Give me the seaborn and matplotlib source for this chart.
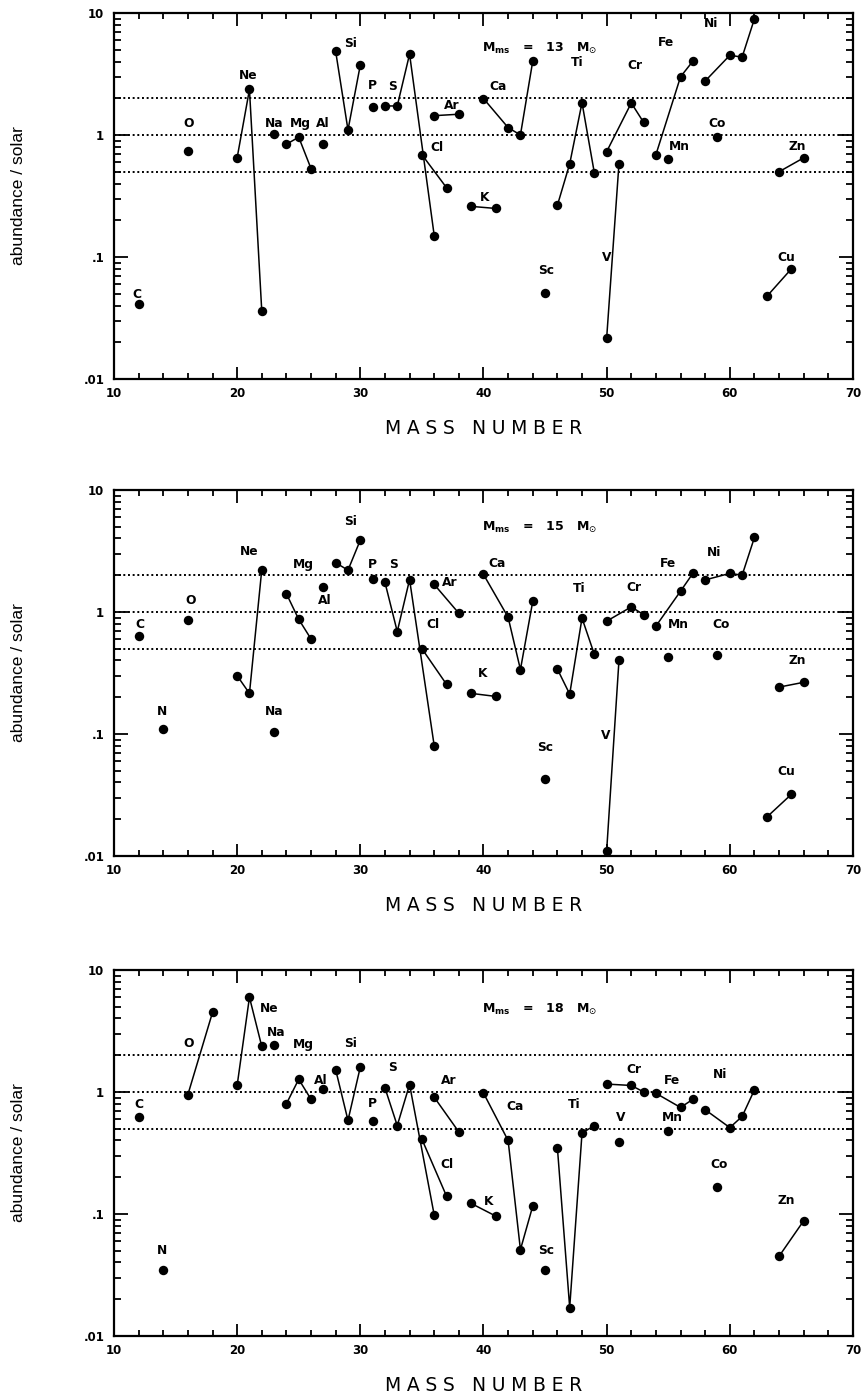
import matplotlib
matplotlib.use("Agg")
import matplotlib.pyplot as plt
import pandas as pd
import seaborn as sns
from matplotlib.ticker import FixedLocator, LogLocator, MultipleLocator, NullFormatter

# ---------------- 13 Msun ----------------
elem_13 = ["C", "O", "Ne", "Ne", "Ne", "Na", "Mg", "Mg", "Mg", "Al", "Si", "Si", "Si", "P",
           "S", "S", "S", "S", "Cl", "Cl", "Ar", "Ar", "K", "K", "Ca", "Ca", "Ca", "Ca", "Sc",
           "Ti", "Ti", "Ti", "Ti", "V", "V", "Cr", "Cr", "Cr", "Mn", "Fe", "Fe", "Fe", "Co",
           "Ni", "Ni", "Ni", "Ni", "Cu", "Cu", "Zn", "Zn"]
mass_13 = [12, 16, 20, 21, 22, 23, 24, 25, 26, 27, 28, 29, 30, 31,
           32, 33, 34, 36, 35, 37, 36, 38, 39, 41, 40, 42, 43, 44, 45,
           46, 47, 48, 49, 50, 51, 50, 52, 53, 55, 54, 56, 57, 59,
           58, 60, 61, 62, 63, 65, 64, 66]
abund_13 = [0.041, 0.74, 0.65, 2.36, 0.036, 1.02, 0.84, 0.96, 0.53, 0.84, 4.84, 1.10, 3.75, 1.70,
            1.73, 1.73, 4.6, 0.15, 0.69, 0.37, 1.44, 1.48, 0.26, 0.25, 1.99, 1.15, 1.0, 4.03, 0.051,
            0.265, 0.58, 1.84, 0.49, 0.0216, 0.58, 0.73, 1.83, 1.27, 0.64, 0.69, 3.0, 4.03, 0.97,
            2.77, 4.5, 4.35, 8.97, 0.0475, 0.08, 0.50, 0.65]
lab_13 = ["C", "O", "Ne", "Na", "Mg", "Al", "Si", "P", "S", "Cl", "Ar", "K", "Ca", "Sc",
          "Ti", "V", "Cr", "Mn", "Fe", "Co", "Ni", "Cu", "Zn"]
lab_13_x = [11.9, 16.05, 20.9, 23.0, 25.15, 26.95, 29.2, 31.0, 32.6, 36.2, 37.4, 40.1, 41.2, 45.1,
            47.6, 50.0, 52.3, 55.9, 54.8, 59.0, 58.5, 64.6, 65.5]
lab_13_y = [0.0497, 1.25, 3.08, 1.25, 1.25, 1.25, 5.64, 2.55, 2.52, 0.785, 1.74, 0.31, 2.48, 0.078,
            3.95, 0.099, 3.73, 0.8, 5.75, 1.25, 8.15, 0.099, 0.8]

# ---------------- 15 Msun ----------------
elem_15 = ["C", "N", "O", "Ne", "Ne", "Ne", "Na", "Mg", "Mg", "Mg", "Al", "Si", "Si", "Si", "P",
           "S", "S", "S", "S", "Cl", "Cl", "Ar", "Ar", "K", "K", "Ca", "Ca", "Ca", "Ca", "Sc",
           "Ti", "Ti", "Ti", "Ti", "V", "V", "Cr", "Cr", "Cr", "Mn", "Fe", "Fe", "Fe", "Co",
           "Ni", "Ni", "Ni", "Ni", "Cu", "Cu", "Zn", "Zn"]
mass_15 = [12, 14, 16, 20, 21, 22, 23, 24, 25, 26, 27, 28, 29, 30, 31,
           32, 33, 34, 36, 35, 37, 36, 38, 39, 41, 40, 42, 43, 44, 45,
           46, 47, 48, 49, 50, 51, 50, 52, 53, 55, 54, 56, 57, 59,
           58, 60, 61, 62, 63, 65, 64, 66]
abund_15 = [0.635, 0.11, 0.856, 0.30, 0.215, 2.22, 0.104, 1.41, 0.87, 0.60, 1.59, 2.53, 2.2, 3.88, 1.86,
            1.75, 0.69, 1.84, 0.080, 0.50, 0.255, 1.68, 0.975, 0.215, 0.203, 2.03, 0.905, 0.337, 1.22, 0.043,
            0.34, 0.212, 0.89, 0.45, 0.011, 0.40, 0.84, 1.10, 0.95, 0.43, 0.765, 1.48, 2.07, 0.44,
            1.83, 2.07, 2.0, 4.08, 0.0208, 0.032, 0.242, 0.265]
lab_15 = ["C", "N", "O", "Ne", "Na", "Mg", "Al", "Si", "P", "S", "Cl", "Ar", "K", "Ca", "Sc",
          "Ti", "V", "Cr", "Mn", "Fe", "Co", "Ni", "Cu", "Zn"]
lab_15_x = [12.1, 13.9, 16.2, 21.0, 23.0, 25.4, 27.1, 29.2, 31.0, 32.7, 35.9, 37.3, 39.9, 41.1, 45.0,
            47.8, 49.9, 52.2, 55.8, 55.0, 59.3, 58.7, 64.6, 65.5]
lab_15_y = [0.79, 0.153, 1.24, 3.1, 0.153, 2.44, 1.24, 5.47, 2.47, 2.47, 0.79, 1.73, 0.314, 2.48, 0.077,
            1.56, 0.097, 1.58, 0.79, 2.48, 0.79, 3.08, 0.049, 0.40]

# ---------------- 18 Msun ----------------
elem_18 = ["C", "N", "O", "O", "Ne", "Ne", "Ne", "Na", "Mg", "Mg", "Mg", "Al", "Si", "Si", "Si", "P",
           "S", "S", "S", "S", "Cl", "Cl", "Ar", "Ar", "K", "K", "Ca", "Ca", "Ca", "Ca", "Sc",
           "Ti", "Ti", "Ti", "Ti", "V", "Cr", "Cr", "Cr", "Mn", "Fe", "Fe", "Fe", "Co",
           "Ni", "Ni", "Ni", "Ni", "Zn", "Zn"]
mass_18 = [12, 14, 16, 18, 20, 21, 22, 23, 24, 25, 26, 27, 28, 29, 30, 31,
           32, 33, 34, 36, 35, 37, 36, 38, 39, 41, 40, 42, 43, 44, 45,
           46, 47, 48, 49, 51, 50, 52, 53, 55, 54, 56, 57, 59,
           58, 60, 61, 62, 64, 66]
abund_18 = [0.62, 0.035, 0.95, 4.48, 1.13, 5.97, 2.36, 2.43, 0.80, 1.27, 0.87, 1.06, 1.52, 0.585, 1.60, 0.574,
            1.08, 0.53, 1.15, 0.098, 0.41, 0.14, 0.905, 0.47, 0.122, 0.096, 0.98, 0.40, 0.051, 0.116, 0.035,
            0.35, 0.0171, 0.46, 0.53, 0.387, 1.16, 1.13, 1.0, 0.48, 0.975, 0.746, 0.87, 0.165,
            0.715, 0.51, 0.63, 1.04, 0.045, 0.088]
lab_18 = ["C", "N", "O", "Ne", "Na", "Mg", "Al", "Si", "P", "S", "Cl", "Ar", "K", "Ca", "Sc",
          "Ti", "V", "Cr", "Mn", "Fe", "Co", "Ni", "Zn"]
lab_18_x = [12.05, 13.9, 16.1, 22.6, 23.2, 25.4, 26.8, 29.2, 31.0, 32.65, 37.0, 37.2, 40.4, 42.6, 45.1,
            47.4, 51.1, 52.2, 55.3, 55.3, 59.1, 59.2, 64.6]
lab_18_y = [0.79, 0.05, 2.48, 4.86, 3.05, 2.45, 1.25, 2.48, 0.80, 1.58, 0.255, 1.24, 0.127, 0.765, 0.05,
            0.79, 0.615, 1.54, 0.62, 1.24, 0.254, 1.4, 0.128]

MODEL_MASS = [13, 15, 18]
REF_LEVELS = [0.5, 1, 2]
YTICKS = [0.01, 0.1, 1, 10]
YTICK_LABELS = [".01", ".1", "1", "10"]

sns.set_style("ticks", {"axes.edgecolor": "black", "text.color": "black",
                        "axes.labelcolor": "black", "xtick.color": "black",
                        "ytick.color": "black"})
plt.rcParams["font.family"] = ["DejaVu Sans"]
plt.rcParams["mathtext.fontset"] = "dejavusans"

THIN = "\u2009"
HAIR = "\u200a"
GAP = THIN + HAIR
xlabel_text = (GAP + " " + GAP).join(GAP.join(w) for w in "MASS NUMBER".split())

fig = plt.figure(figsize=(8.68, 13.97), dpi=100)
bottoms = [0.7287, 0.3873, 0.0437]
height = 0.262
panels = [
    (elem_13, mass_13, abund_13, lab_13, lab_13_x, lab_13_y, 5.15),
    (elem_15, mass_15, abund_15, lab_15, lab_15_x, lab_15_y, 4.9),
    (elem_18, mass_18, abund_18, lab_18, lab_18_x, lab_18_y, 4.7),
]

for i, (elem, mass, abund, labs, lx, ly, my) in enumerate(panels):
    ax = fig.add_axes([0.1313, bottoms[i], 0.8514, height])
    df = pd.DataFrame({"elem": elem, "mass": mass, "abund": abund})
    ax.set_yscale("log")
    for lvl in REF_LEVELS:
        ax.axhline(lvl, color="black", lw=1.4, ls=(0, (1.0, 1.4)), zorder=1)
    sns.lineplot(data=df, x="mass", y="abund", units="elem", estimator=None,
                 color="black", lw=1.1, marker="o", markersize=6.8,
                 markeredgewidth=0, legend=False, ax=ax, zorder=3)

    for t, x, y in zip(labs, lx, ly):
        ax.text(x, y, t, ha="center", va="center", fontsize=8.8, fontweight="bold")
    ax.text(39.9, my, r"M$_{\mathbf{ms}}$   =   %d   M$_{\odot}$" % MODEL_MASS[i],
            ha="left", va="center", fontsize=9, fontweight="bold")

    ax.set_xlim(10, 70)
    ax.set_ylim(0.01, 10)
    ax.xaxis.set_major_locator(MultipleLocator(10))
    ax.xaxis.set_minor_locator(MultipleLocator(2))
    ax.yaxis.set_major_locator(FixedLocator(YTICKS))
    ax.yaxis.set_minor_locator(LogLocator(base=10, subs=range(2, 10)))
    ax.yaxis.set_minor_formatter(NullFormatter())
    ax.set_yticklabels(YTICK_LABELS)
    ax.tick_params(which="both", direction="in", top=True, right=True, width=1.3,
                   labelsize=8.5)
    ax.tick_params(axis="x", which="both", pad=5.5)
    ax.tick_params(axis="y", which="both", pad=7)
    ax.tick_params(axis="x", which="major", length=9)
    ax.tick_params(axis="x", which="minor", length=4.5)
    ax.tick_params(axis="y", which="major", length=10)
    ax.tick_params(axis="y", which="minor", length=5)
    for lbl in ax.get_xticklabels() + ax.get_yticklabels():
        lbl.set_fontweight("bold")
    for sp in ax.spines.values():
        sp.set_linewidth(1.6)

    ax.set_xlabel(xlabel_text, fontsize=13.5, labelpad=14)
    ax.set_ylabel("")
    fig.text(0.021, bottoms[i] + height / 2, "abundance / solar", rotation=90,
             ha="center", va="center", fontsize=12.5, family=["Liberation Sans", "DejaVu Sans"])

fig.savefig("out.png", dpi=100)
